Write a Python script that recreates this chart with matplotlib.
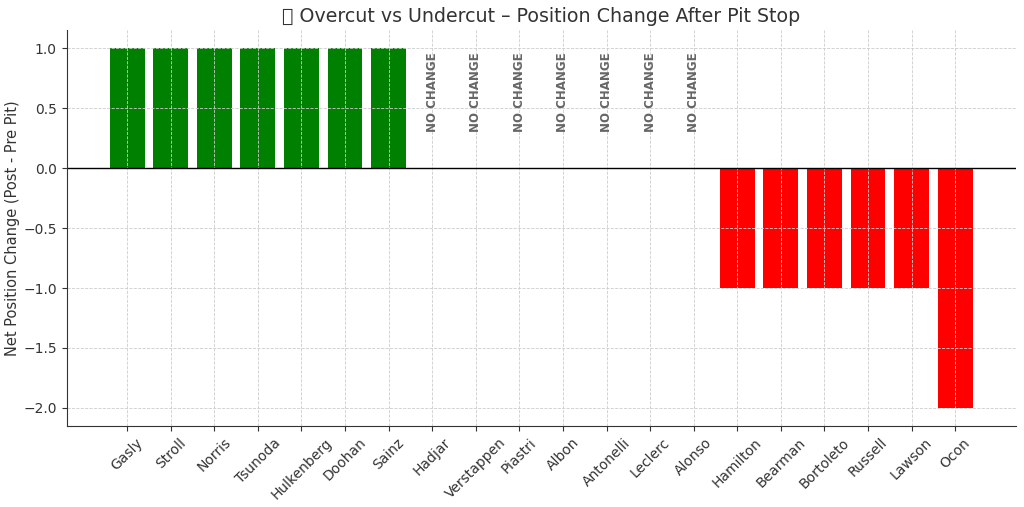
import numpy as np
import matplotlib.pyplot as plt

drivers = ['Gasly', 'Stroll', 'Norris', 'Tsunoda', 'Hulkenberg', 'Doohan', 'Sainz',
           'Hadjar', 'Verstappen', 'Piastri', 'Albon', 'Antonelli', 'Leclerc', 'Alonso',
           'Hamilton', 'Bearman', 'Bortoleto', 'Russell', 'Lawson', 'Ocon']
change = [1, 1, 1, 1, 1, 1, 1,
          0, 0, 0, 0, 0, 0, 0,
          -1, -1, -1, -1, -1, -2]

colors = ['green' if c > 0 else 'red' if c < 0 else 'gray' for c in change]

fig, ax = plt.subplots(figsize=(10.24, 5.07), dpi=100)
x = np.arange(len(drivers))
ax.bar(x, change, color=colors, width=0.8)
ax.axhline(0, color='black', linewidth=1)

# label the drivers that did not move
for i, c in enumerate(change):
    if c == 0:
        ax.text(i, 0.3, 'NO CHANGE', rotation=90, ha='center', va='bottom',
                fontsize=8.5, fontweight='bold', color='#666666')

ax.set_xticks(x)
ax.set_xticklabels(drivers, rotation=45, fontsize=10, color='#333333')
ax.tick_params(axis='y', labelsize=10, labelcolor='#333333')
ax.tick_params(colors='#333333', which='both')
ax.set_ylabel('Net Position Change (Post - Pre Pit)', fontsize=10.5, color='#333333',
              labelpad=2)
ax.set_title('\U0001F3C1 Overcut vs Undercut \u2013 Position Change After Pit Stop',
             fontsize=13.7, color='#333333')
ax.grid(True, linestyle='--', linewidth=0.6, color='#cccccc')
ax.spines['top'].set_visible(False)
ax.spines['right'].set_visible(False)
ax.spines['left'].set_color('#333333')
ax.spines['bottom'].set_color('#333333')

plt.subplots_adjust(left=0.065, right=0.992, top=0.94, bottom=0.16)
plt.savefig('out.png')
